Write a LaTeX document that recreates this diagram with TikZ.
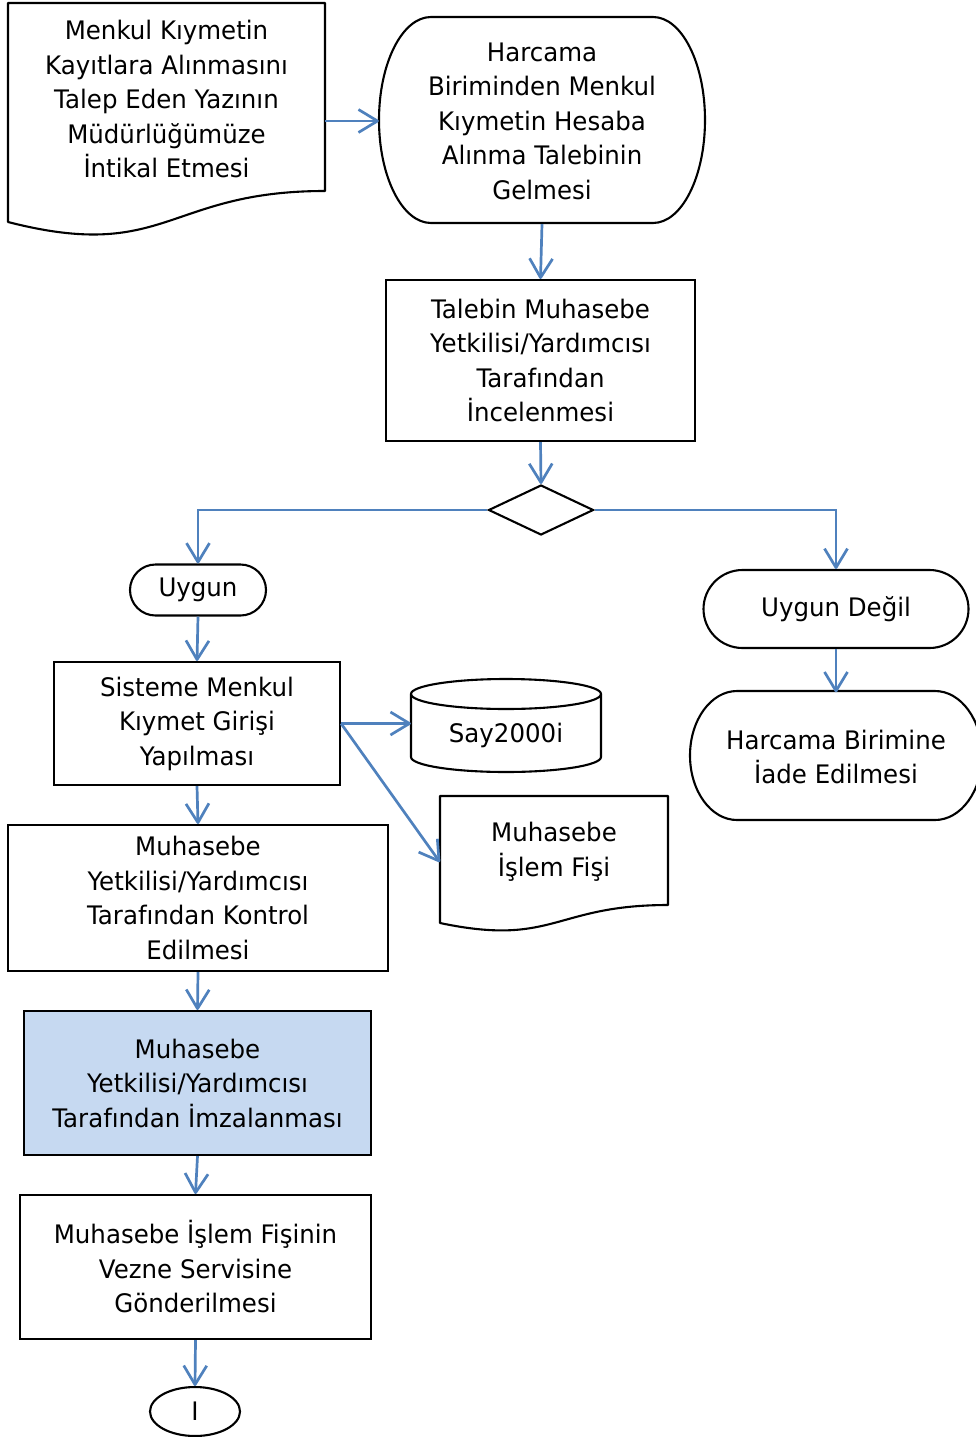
\documentclass[tikz,border=0pt]{standalone}
\usepackage{fontspec}
\setmainfont{DejaVu Sans}[FakeStretch=0.96]
\usetikzlibrary{arrows.meta}
\usetikzlibrary{calc}
\usetikzlibrary{shapes.geometric}
\usetikzlibrary{shapes.misc}
\definecolor{akis}{RGB}{79,129,189}
\definecolor{imza}{RGB}{198,217,241}
\tikzset{
    fc_text/.style = {align=center, inner sep=0pt, text centered,
        font=\fontsize{25.5}{34.5}\selectfont},
    fc_box/.style = {fc_text, rectangle, draw=black, line width=2.1pt},% islem kutusu
    fc_blank/.style = {fc_text, rectangle},% kenari ayrica cizilir
    fc_oval/.style = {fc_text, rounded rectangle, draw=black, line width=2.1pt},% uygun / uygun degil
    fc_line/.style = {draw=black, line width=2.1pt, line join=round},
    akis_ok/.style = {draw=akis, line width=2.7pt,
        -{Straight Barb[length=19pt, width=23pt, line join=round]}},% mavi akis oku
}

\begin{document}
\begin{tikzpicture}[x=1pt, y=-1pt]
\useasboundingbox (0,0) rectangle (975,1437);

% ust satir
\node [fc_blank, minimum width=317pt, minimum height=190pt] (talep) at (166.5,99)
    {Menkul Kıymetin\\Kayıtlara Alınmasını\\Talep Eden Yazının\\Müdürlüğümüze\\İntikal Etmesi};
\draw [fc_line] (8,3) -- (325,3) -- (325,191)
    .. controls (166.5,191) and (166.5,262.7) .. (8,222) -- cycle;

\node [fc_blank, minimum width=326pt, minimum height=206pt] (harcama) at (542,121)
    {Harcama\\Biriminden Menkul\\Kıymetin Hesaba\\Alınma Talebinin\\Gelmesi};
\draw [fc_line] (431,17) -- (653,17)
    arc[start angle=90, end angle=-90, x radius=52pt, y radius=103pt] -- (431,223)
    arc[start angle=270, end angle=90, x radius=52pt, y radius=103pt] -- cycle;

\node [fc_box, minimum width=309pt, minimum height=161pt] (inceleme) at (540.5,360.5)
    {Talebin Muhasebe\\Yetkilisi/Yardımcısı\\Tarafından\\İncelenmesi};

\node [diamond, draw=black, line width=2.1pt, inner sep=0pt, aspect=2.1,
    minimum width=105pt, minimum height=50pt] (karar) at (541,510) {};

% uygun kolu
\node [fc_oval, minimum width=136pt, minimum height=51pt] (uygun) at (198,590)
    {\raisebox{-3pt}{Uygun}};

\node [fc_box, minimum width=286pt, minimum height=123pt] (giris) at (197,723.5)
    {Sisteme Menkul\\Kıymet Girişi\\Yapılması};

\node [fc_text, minimum width=190pt, minimum height=60pt] (say) at (506,735) {Say2000i};
\draw [fc_line] (411,694) -- (411,757)
    arc[start angle=180, end angle=360, x radius=95pt, y radius=15pt] -- (601,694)
    arc[start angle=0, end angle=180, x radius=95pt, y radius=15pt] -- cycle;
\draw [fc_line] (411,694) arc[start angle=180, end angle=360, x radius=95pt, y radius=15pt];

\node [fc_text, minimum width=228pt, minimum height=110pt] (fis) at (554,852)
    {Muhasebe\\İşlem Fişi};
\draw [fc_line] (440,796) -- (668,796) -- (668,905)
    .. controls (554,905) and (554,947) .. (440,923) -- cycle;

\node [fc_box, minimum width=380pt, minimum height=146pt] (kontrol) at (198,898)
    {Muhasebe\\Yetkilisi/Yardımcısı\\Tarafından Kontrol\\Edilmesi};

\node [fc_box, fill=imza, minimum width=347pt, minimum height=144pt] (imza) at (197.5,1083)
    {Muhasebe\\Yetkilisi/Yardımcısı\\Tarafından İmzalanması};

\node [fc_box, minimum width=351pt, minimum height=144pt] (vezne) at (195.5,1267)
    {Muhasebe İşlem Fişinin\\Vezne Servisine\\Gönderilmesi};

\node [fc_text, ellipse, draw=black, line width=2.1pt,
    minimum width=90pt, minimum height=49pt] (baglanti) at (195,1411.5) {I};

% uygun degil kolu
\node [fc_oval, minimum width=265pt, minimum height=78pt] (degil) at (836,609)
    {\raisebox{-2pt}{Uygun Değil}};

\node [fc_blank, minimum width=292pt, minimum height=129pt] (iade) at (836,757)
    {Harcama Birimine\\İade Edilmesi};
\draw [fc_line] (737,691) -- (935,691)
    arc[start angle=90, end angle=-90, x radius=47pt, y radius=64.5pt] -- (737,820)
    arc[start angle=270, end angle=90, x radius=47pt, y radius=64.5pt] -- cycle;

% oklar
\draw [akis_ok] (talep.east |- harcama.west) -- (harcama.west);
\draw [akis_ok] (harcama.south) -- (inceleme.north);
\draw [akis_ok] (inceleme.south) -- (karar.north);
\draw [akis_ok] (karar.west) -| (uygun.north);
\draw [akis_ok] (karar.east) -| (degil.north);
\draw [akis_ok] (uygun.south) -- (giris.north);
\draw [akis_ok] (giris.east) -- (giris.east -| say.west);
\draw [akis_ok] (giris.east) -- ([yshift=-10pt]fis.west);
\draw [akis_ok] (giris.south) -- (kontrol.north);
\draw [akis_ok] (kontrol.south) -- (imza.north);
\draw [akis_ok] (imza.south) -- (vezne.north);
\draw [akis_ok] (vezne.south) -- (baglanti.north);
\draw [akis_ok] (degil.south) -- (iade.north);
\end{tikzpicture}
\end{document}
